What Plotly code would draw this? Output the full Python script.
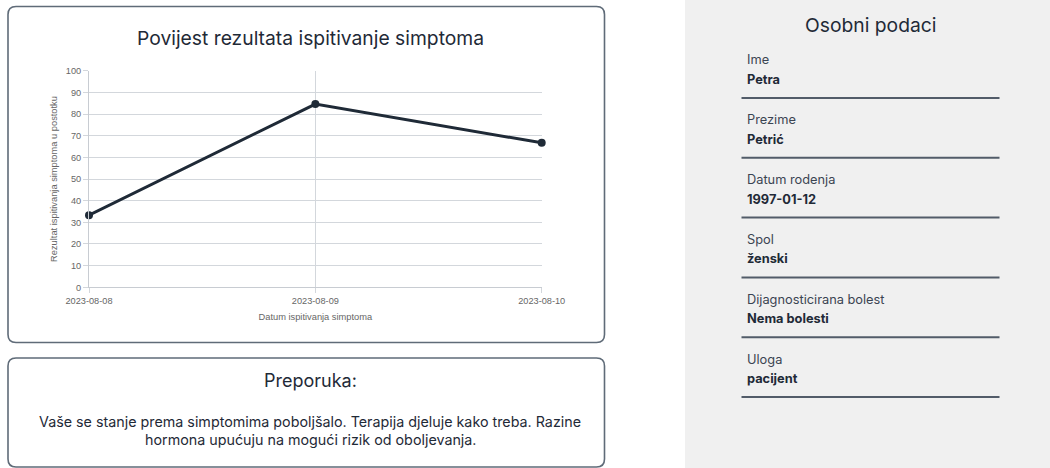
import plotly.graph_objects as go

W, H = 1050, 468

dates = ["2023-08-08", "2023-08-09", "2023-08-10"]
scores = [33.3, 84.6, 66.7]
y_ticks = [0, 10, 20, 30, 40, 50, 60, 70, 80, 90, 100]

chart_title = "Povijest rezultata ispitivanje simptoma"
y_title = "Rezultat ispitivanja simptoma u postotku"
x_title = "Datum ispitivanja simptoma"

rec_title = "Preporuka:"
rec_lines = [
    "Vaše se stanje prema simptomima poboljšalo. Terapija djeluje kako treba. Razine",
    "hormona upućuju na mogući rizik od oboljevanja.",
]

panel_title = "Osobni podaci"
field_labels = ["Ime", "Prezime", "Datum rodenja", "Spol", "Dijagnosticirana bolest", "Uloga"]
field_values = ["Petra", "Petrić", "1997-01-12", "ženski", "Nema bolesti", "pacijent"]

UI_FONT = "Inter, Poppins, Lato, sans-serif"
CHART_FONT = "Liberation Sans, Arial, sans-serif"


def px(x):
    return x / W


def py(y):
    return 1 - y / H


def rounded_rect(x0, y0, x1, y1, r):
    pts = [
        f"M {px(x0 + r)} {py(y0)}",
        f"L {px(x1 - r)} {py(y0)}",
        f"Q {px(x1)} {py(y0)} {px(x1)} {py(y0 + r)}",
        f"L {px(x1)} {py(y1 - r)}",
        f"Q {px(x1)} {py(y1)} {px(x1 - r)} {py(y1)}",
        f"L {px(x0 + r)} {py(y1)}",
        f"Q {px(x0)} {py(y1)} {px(x0)} {py(y1 - r)}",
        f"L {px(x0)} {py(y0 + r)}",
        f"Q {px(x0)} {py(y0)} {px(x0 + r)} {py(y0)}",
        "Z",
    ]
    return " ".join(pts)


fig = go.Figure()

fig.add_trace(go.Scatter(
    x=dates, y=scores, mode="lines+markers",
    line=dict(color="#1f2a37", width=3),
    marker=dict(color="#1f2a37", size=8),
    cliponaxis=False,
    hoverinfo="x+y", showlegend=False,
))

shapes = []
shapes.append(dict(type="rect", xref="paper", yref="paper", x0=px(685), x1=1, y0=0, y1=1,
                   fillcolor="#f0f0f0", line=dict(width=0), layer="below"))
shapes.append(dict(type="path", xref="paper", yref="paper", path=rounded_rect(8, 6.5, 604.5, 342.5, 8),
                   fillcolor="rgba(0,0,0,0)", line=dict(color="#5f6b78", width=1.6), layer="below"))
shapes.append(dict(type="path", xref="paper", yref="paper", path=rounded_rect(8, 358, 604.5, 467, 8),
                   fillcolor="rgba(0,0,0,0)", line=dict(color="#5f6b78", width=1.6), layer="below"))

annotations = []
annotations.append(dict(text=chart_title, xref="paper", yref="paper", x=px(310), y=py(38),
                        showarrow=False, xanchor="center", yanchor="middle",
                        font=dict(family=UI_FONT, size=19.3, color="#1f2a37")))
annotations.append(dict(text=rec_title, xref="paper", yref="paper", x=px(310), y=py(380),
                        showarrow=False, xanchor="center", yanchor="middle",
                        font=dict(family=UI_FONT, size=18, color="#1f2a37")))
for i, line in enumerate(rec_lines):
    annotations.append(dict(text=line, xref="paper", yref="paper", x=px(310), y=py(421.5 + 18 * i),
                            showarrow=False, xanchor="center", yanchor="middle",
                            font=dict(family=UI_FONT, size=14.3, color="#1f2a37")))

annotations.append(dict(text=panel_title, xref="paper", yref="paper", x=px(870), y=py(25),
                        showarrow=False, xanchor="center", yanchor="middle",
                        font=dict(family=UI_FONT, size=19.3, color="#1f2a37")))
step = 59.8
for i, (lab, val) in enumerate(zip(field_labels, field_values)):
    base = 60 + step * i
    annotations.append(dict(text=lab, xref="paper", yref="paper", x=px(744.5), y=py(base),
                            showarrow=False, xanchor="left", yanchor="middle",
                            font=dict(family=UI_FONT, size=12.8, color="#3b4452")))
    annotations.append(dict(text=f"<b>{val}</b>", xref="paper", yref="paper", x=px(744.5), y=py(base + 19.5),
                            showarrow=False, xanchor="left", yanchor="middle",
                            font=dict(family=UI_FONT, size=12.8, color="#1f2a37")))
    shapes.append(dict(type="line", xref="paper", yref="paper",
                       x0=px(741.5), x1=px(999.5), y0=py(98 + step * i), y1=py(98 + step * i),
                       line=dict(color="#525c69", width=2)))

GRID = "#d3d7dc"

fig.update_layout(
    width=W, height=H,
    margin=dict(l=0, r=0, t=0, b=0),
    paper_bgcolor="white", plot_bgcolor="white",
    shapes=shapes, annotations=annotations,
    font=dict(family=CHART_FONT, size=9.2, color="#666666"),
    xaxis=dict(
        domain=[px(89), px(541.7)], type="category", range=[0, 2],
        showgrid=True, gridcolor=GRID, gridwidth=1,
        ticks="outside", ticklen=5, tickcolor=GRID,
        showline=True, linecolor="#c8ccd2", linewidth=1,
        tickfont=dict(family=CHART_FONT, size=9.2, color="#666666"),
        title=dict(text=x_title, font=dict(family=CHART_FONT, size=9.3, color="#666666"), standoff=8),
        automargin=False, fixedrange=True, zeroline=False,
    ),
    yaxis=dict(
        domain=[py(287.3), py(70.7)], range=[0, 100], tickvals=y_ticks,
        showgrid=True, gridcolor=GRID, gridwidth=1,
        ticks="outside", ticklen=5, tickcolor=GRID,
        showline=True, linecolor="#c8ccd2", linewidth=1,
        tickfont=dict(family=CHART_FONT, size=9.2, color="#666666"),
        title=dict(text=y_title, font=dict(family=CHART_FONT, size=9.3, color="#666666"), standoff=6),
        automargin=False, fixedrange=True, zeroline=False,
    ),
)

fig.write_html(
    "out.html",
    config={"displayModeBar": False},
    post_script="document.body.style.margin='0';document.body.style.overflow='hidden';",
)
